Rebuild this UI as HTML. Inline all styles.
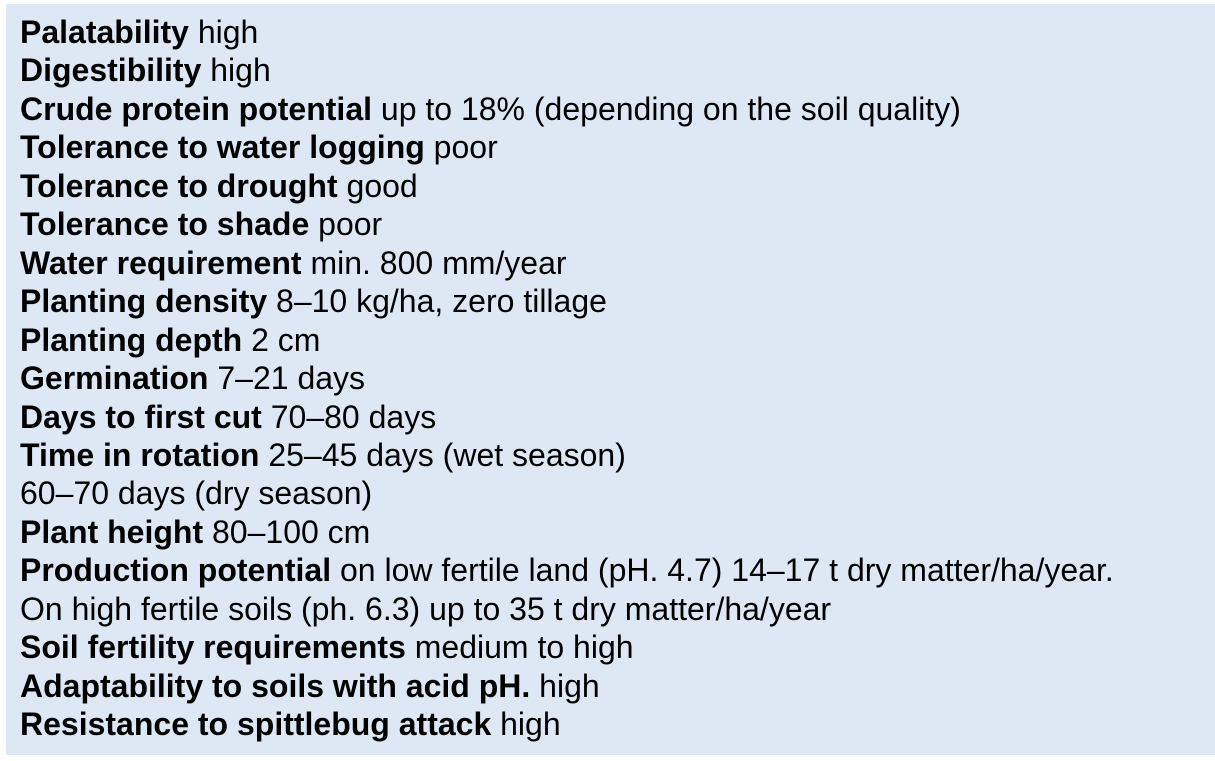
<!DOCTYPE html>
<html><head><meta charset="utf-8"><style>
html,body{margin:0;padding:0;background:#fff;width:1215px;height:761px;overflow:hidden}
#box{position:absolute;left:6px;top:4px;width:1209px;height:751px;background:#dde8f4}
#txt{position:absolute;left:14px;top:9px;font-family:"Liberation Sans",Arial,sans-serif;font-size:32px;line-height:38.45px;color:#000;white-space:nowrap}
b{font-weight:bold}
</style></head><body>
<div id="box">
<div id="txt">
<div><b>Palatability</b> high</div>
<div><b>Digestibility</b> high</div>
<div><b>Crude protein potential</b> up to 18% (depending on the soil quality)</div>
<div><b>Tolerance to water logging</b> poor</div>
<div><b>Tolerance to drought</b> good</div>
<div><b>Tolerance to shade</b> poor</div>
<div><b>Water requirement</b> min. 800 mm/year</div>
<div><b>Planting density</b> 8–10 kg/ha, zero tillage</div>
<div><b>Planting depth</b> 2 cm</div>
<div><b>Germination</b> 7–21 days</div>
<div><b>Days to first cut</b> 70–80 days</div>
<div><b>Time in rotation</b> 25–45 days (wet season)</div>
<div>60–70 days (dry season)</div>
<div><b>Plant height</b> 80–100 cm</div>
<div><b>Production potential</b> on low fertile land (pH. 4.7) 14–17 t dry matter/ha/year.</div>
<div>On high fertile soils (ph. 6.3) up to 35 t dry matter/ha/year</div>
<div><b>Soil fertility requirements</b> medium to high</div>
<div><b>Adaptability to soils with acid pH.</b> high</div>
<div><b>Resistance to spittlebug attack</b> high</div>
</div></div>
</body></html>
